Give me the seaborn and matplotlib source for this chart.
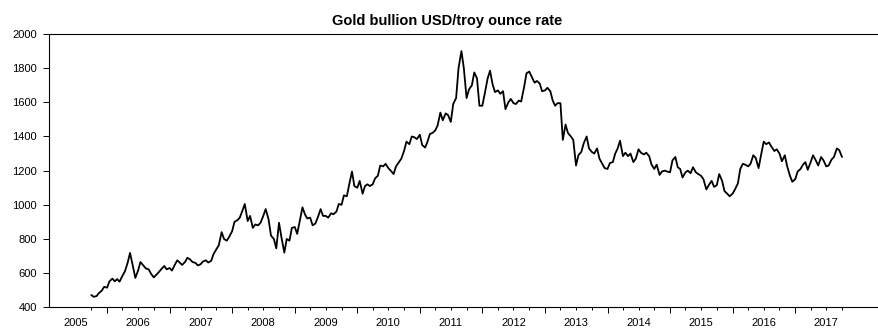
import matplotlib
matplotlib.use("Agg")
import matplotlib.pyplot as plt
import matplotlib.dates as mdates
from matplotlib.ticker import FixedLocator, FuncFormatter, NullFormatter
import pandas as pd
import seaborn as sns

sns.set_style("ticks")
plt.rcParams["font.family"] = ["Liberation Sans", "DejaVu Sans"]
plt.rcParams["text.color"] = "black"

title = "Gold bullion USD/troy ounce rate"

# semi-monthly readings (1st and 15th of each month), Oct 2005 .. Oct 2017
start_date, end_date = "2005-10-01", "2017-10-01"
p2005 = [472, 461, 466, 484, 497, 520]
p2006 = [515, 552, 568, 552, 565, 550, 585, 610, 660, 718, 640, 572,
         615, 665, 645, 628, 622, 596, 575, 590, 608, 625, 642, 622]
p2007 = [630, 615, 650, 675, 662, 648, 665, 690, 680, 665, 660, 645,
         652, 668, 675, 662, 672, 712, 740, 762, 840, 800, 790, 812]
p2008 = [845, 900, 910, 925, 965, 1005, 905, 935, 865, 885, 880, 895,
         935, 975, 915, 820, 800, 745, 895, 810, 720, 800, 790, 865]
p2009 = [870, 830, 915, 985, 945, 920, 925, 880, 890, 925, 975, 935,
         935, 925, 950, 945, 960, 1005, 1000, 1055, 1050, 1120, 1195, 1110]
p2010 = [1100, 1140, 1065, 1110, 1120, 1110, 1120, 1155, 1170, 1230, 1225, 1240,
         1215, 1200, 1180, 1225, 1250, 1270, 1315, 1370, 1355, 1400, 1395, 1385]
p2011 = [1410, 1350, 1335, 1370, 1415, 1420, 1435, 1465, 1540, 1495, 1535, 1525,
         1485, 1590, 1625, 1800, 1900, 1800, 1625, 1675, 1700, 1775, 1740, 1580]
p2012 = [1580, 1650, 1740, 1785, 1705, 1660, 1670, 1650, 1665, 1560, 1600, 1620,
         1595, 1590, 1610, 1605, 1690, 1770, 1780, 1750, 1715, 1725, 1710, 1665]
p2013 = [1670, 1685, 1665, 1610, 1580, 1595, 1595, 1380, 1470, 1420, 1400, 1380,
         1230, 1290, 1310, 1360, 1400, 1330, 1310, 1300, 1330, 1270, 1240, 1215]
p2014 = [1210, 1245, 1250, 1300, 1330, 1375, 1285, 1305, 1285, 1300, 1250, 1270,
         1325, 1305, 1295, 1305, 1285, 1235, 1210, 1235, 1175, 1195, 1200, 1195]
p2015 = [1190, 1260, 1280, 1220, 1210, 1160, 1190, 1200, 1185, 1220, 1190, 1180,
         1170, 1150, 1090, 1115, 1140, 1105, 1115, 1180, 1140, 1080, 1065, 1050]
p2016 = [1065, 1090, 1125, 1210, 1240, 1235, 1225, 1240, 1290, 1275, 1215, 1290,
         1370, 1355, 1365, 1340, 1315, 1325, 1300, 1255, 1290, 1225, 1170, 1135]
p2017 = [1150, 1195, 1210, 1235, 1250, 1205, 1250, 1290, 1260, 1230, 1280, 1260,
         1225, 1230, 1265, 1280, 1330, 1320, 1280]

prices = (p2005 + p2006 + p2007 + p2008 + p2009 + p2010 + p2011 + p2012
          + p2013 + p2014 + p2015 + p2016 + p2017)
dates = pd.date_range(start_date, end_date, freq="SMS")
df = pd.DataFrame({"date": dates, "price": prices})

y_ticks = [400, 600, 800, 1000, 1200, 1400, 1600, 1800, 2000]
label_years = list(range(2005, 2018))
boundary_years = list(range(2006, 2018))

W, H = 879, 334
fig = plt.figure(figsize=(W / 100, H / 100), dpi=100)
ax = fig.add_axes([49 / W, (H - 307.3) / H, (W - 49) / W, 273.3 / H])

sns.lineplot(data=df, x="date", y="price", color="black", linewidth=1.3, ax=ax)

ax.set_xlim(pd.Timestamp("2005-01-27"), pd.Timestamp("2018-05-05"))
ax.set_ylim(400, 2000)
ax.set_xlabel("")
ax.set_ylabel("")

ax.set_yticks(y_ticks)
ax.set_yticklabels([str(v) for v in y_ticks])

# year boundaries: long unlabeled ticks; quarters: short ticks; labels mid-year
major_locs = mdates.date2num([pd.Timestamp(f"{y}-01-01") for y in boundary_years])
minor_dates = [pd.Timestamp("2005-07-01"), pd.Timestamp("2005-10-01")]
for y in boundary_years:
    for m in (4, 7, 10):
        minor_dates.append(pd.Timestamp(f"{y}-{m:02d}-01"))
minor_locs = mdates.date2num(minor_dates)

ax.tick_params(axis="x", which="major", length=4.3, width=0.7, direction="out",
               colors="black")
ax.tick_params(axis="x", which="minor", length=2.2, width=0.7, direction="out",
               pad=5.6, labelsize=8, colors="black")
ax.tick_params(axis="y", which="major", length=4.1, width=0.7, direction="out",
               pad=4.7, labelsize=8, colors="black")

ax.xaxis.set_major_locator(FixedLocator(major_locs))
ax.xaxis.set_major_formatter(NullFormatter())
ax.xaxis.set_minor_locator(FixedLocator(minor_locs))


def year_label(v, pos):
    d = mdates.num2date(v)
    return str(d.year) if d.month == 7 else ""


ax.xaxis.set_minor_formatter(FuncFormatter(year_label))

mticks = ax.xaxis.get_minor_ticks(len(minor_locs))
mticks[0].tick1line.set_markersize(0)

for s in ("left", "top", "bottom"):
    ax.spines[s].set_linewidth(0.8)
    ax.spines[s].set_color("black")
ax.spines["right"].set_visible(False)

fig.text(447 / W, 1 - 24.5 / H, title, ha="center", va="baseline",
         fontsize=10.5, fontweight="bold", color="black")

fig.savefig("out.png", dpi=100)
